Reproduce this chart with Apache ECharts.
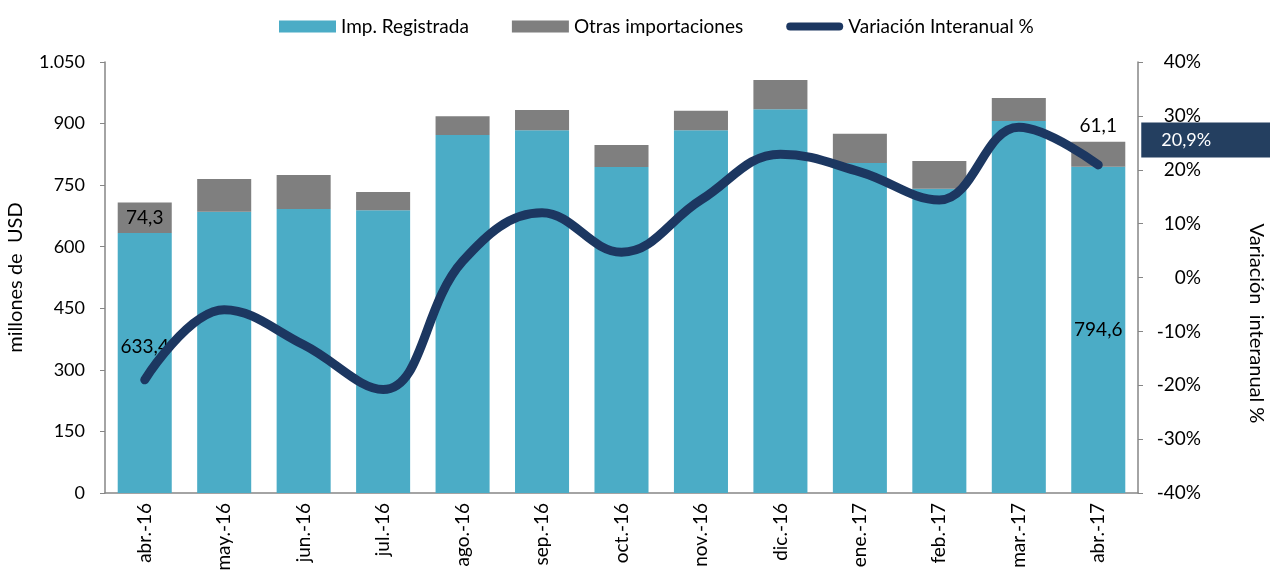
<!DOCTYPE html>
<html>
<head>
<meta charset="utf-8">
<script src="https://cdn.jsdelivr.net/npm/echarts@6/dist/echarts.min.js"></script>
<style>
  html, body { margin: 0; padding: 0; background: #fff; }
  #chart { width: 1270px; height: 574px; }
</style>
</head>
<body>
<div id="chart"></div>
<script>
// datos
var meses = ['abr.-16', 'may.-16', 'jun.-16', 'jul.-16', 'ago.-16', 'sep.-16', 'oct.-16',
  'nov.-16', 'dic.-16', 'ene.-17', 'feb.-17', 'mar.-17', 'abr.-17'];
var impRegistrada = [633.4, 685, 692, 689, 872, 884, 794, 884, 935, 804, 741, 906, 794.6];
var otrasImport = [74.3, 80, 83, 44, 46, 49, 54, 47, 71, 71, 68, 56, 61.1];
var variacion = [-19.0, -6.0, -12.5, -20.8, 3.0, 12.0, 4.7, 14.4, 22.9, 19.6, 14.4, 27.9, 20.9];

var FONT = 'Lato';
var coma = function (v) { return String(v).replace('.', ','); };
var miles = function (v) {
  var s = String(v);
  return v >= 1000 ? s.slice(0, s.length - 3) + '.' + s.slice(-3) : s;
};

var last = meses.length - 1;
var tealData = impRegistrada.map(function (v, i) {
  if (i === 0) return { value: v, label: { show: true, position: 'inside', offset: [0, -16] } };
  if (i === last) return { value: v, label: { show: true, position: 'inside' } };
  return v;
});
var grayData = otrasImport.map(function (v, i) {
  if (i === 0) return { value: v, label: { show: true, position: 'inside' } };
  if (i === last) return { value: v, label: { show: true, position: 'top', distance: 6 } };
  return v;
});

var chart = echarts.init(document.getElementById('chart'));
var axisGray = '#868686';
var labelTxt = { color: '#000', fontFamily: FONT, fontSize: 19, formatter: function (p) { return coma(p.value); } };

chart.setOption({
  animation: false,
  textStyle: { fontFamily: FONT },
  legend: {
    top: 12,
    left: 274,
    itemWidth: 57,
    itemHeight: 12,
    itemGap: 43,
    textStyle: { fontFamily: FONT, fontSize: 19, color: '#000' },
    data: [
      { name: 'Imp. Registrada', icon: 'rect' },
      { name: 'Otras importaciones', icon: 'rect' },
      { name: 'Variación Interanual %', icon: 'path://M4,0 L53,0 A4,4 0 0 1 53,8 L4,8 A4,4 0 0 1 4,0 Z' }
    ]
  },
  grid: { left: 105, right: 132, top: 62, bottom: 81, outerBoundsMode: 'none' },
  xAxis: {
    type: 'category',
    data: meses,
    axisLine: { lineStyle: { color: axisGray, width: 1.5 } },
    axisTick: { length: 6, lineStyle: { color: axisGray } },
    axisLabel: { rotate: 90, margin: 10, fontSize: 19, color: '#000', fontFamily: FONT }
  },
  yAxis: [{
    type: 'value',
    min: 0, max: 1050, interval: 150,
    name: 'millones de  USD',
    nameLocation: 'middle',
    nameGap: 79,
    nameTextStyle: { fontFamily: FONT, fontSize: 20, color: '#000' },
    splitLine: { show: false },
    axisLine: { show: true, lineStyle: { color: axisGray, width: 1.5 } },
    axisTick: { show: true, length: 5, lineStyle: { color: axisGray } },
    axisLabel: { margin: 20, fontSize: 18, color: '#000', fontFamily: FONT, formatter: miles }
  }, {
    type: 'value',
    min: -40, max: 40, interval: 10,
    position: 'right',
    name: 'Variación  interanual %',
    nameLocation: 'middle',
    nameGap: 108,
    nameRotate: -90,
    nameTextStyle: { fontFamily: FONT, fontSize: 20, color: '#000', padding: [0, 0, 0, 92] },
    splitLine: { show: false },
    axisLine: { show: true, lineStyle: { color: axisGray, width: 1.5 } },
    axisTick: { show: true, length: 5, lineStyle: { color: axisGray } },
    axisLabel: { margin: 63, align: 'right', fontSize: 19, color: '#000', fontFamily: FONT,
      formatter: function (v) { return v + '%'; } }
  }],
  series: [{
    name: 'Imp. Registrada',
    type: 'bar',
    stack: 'imp',
    barCategoryGap: '32%',
    itemStyle: { color: '#4BACC6' },
    label: labelTxt,
    data: tealData
  }, {
    name: 'Otras importaciones',
    type: 'bar',
    stack: 'imp',
    itemStyle: { color: '#7F7F7F' },
    label: labelTxt,
    data: grayData
  }, {
    name: 'Variación Interanual %',
    type: 'line',
    yAxisIndex: 1,
    smooth: 0.4,
    symbol: 'none',
    lineStyle: { color: '#1C3761', width: 9, cap: 'round' },
    itemStyle: { color: '#1C3761' },
    endLabel: {
      show: true,
      distance: 43,
      offset: [0, -25],
      backgroundColor: '#243F60',
      color: '#fff',
      fontFamily: FONT,
      fontSize: 18,
      width: 110,
      height: 25,
      lineHeight: 25,
      padding: [5, 5, 5, 20],
      formatter: function (p) { return coma(p.value) + '%'; }
    },
    data: variacion
  }]
});
</script>
</body>
</html>
